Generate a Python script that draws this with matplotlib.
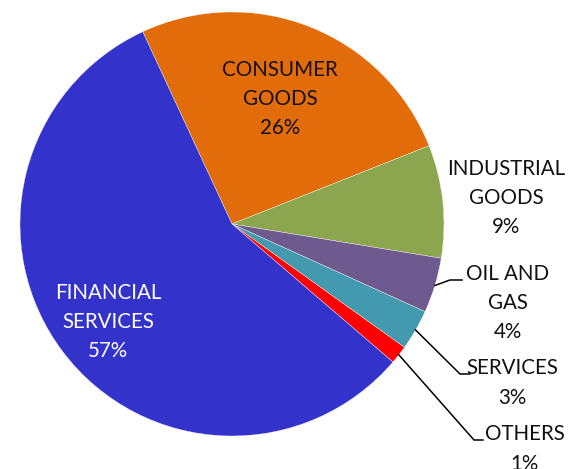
import numpy as np
import matplotlib.pyplot as plt

# sector shares (percent), in drawing order (clockwise from the top-left)
sectors = ["CONSUMER\nGOODS", "INDUSTRIAL\nGOODS", "OIL AND\nGAS", "SERVICES", "OTHERS", "FINANCIAL\nSERVICES"]
shares = [25.9, 8.6, 4.2, 3.1, 1.4, 56.8]
colors = ["#E36C0A", "#8BA64F", "#6F5A8F", "#4399AE", "#FF0000", "#3333CC"]
text_colors = ["#111111", "#111111", "#111111", "#111111", "#111111", "white"]

W, H = 568, 469
fig = plt.figure(figsize=(W / 100, H / 100), dpi=100)
ax = fig.add_axes([0, 0, 1, 1])

cx, cy, r = 232, H - 224, 212
wedges, _ = ax.pie(shares, colors=colors, startangle=114.9, counterclock=False,
                   center=(cx, cy), radius=r, frame=True,
                   wedgeprops=dict(edgecolor="white", linewidth=0.25))
ax.set_xlim(0, W)
ax.set_ylim(0, H)
ax.set_aspect("equal")
ax.axis("off")

# label centres (pixel coords, y from top)
label_pos = [(280, 99), (506, 198), (508, 303), (512, 383), (525, 449), (108, 322)]
# leader lines: elbow and end points (None = label sits inside the wedge)
elbows = [None, None, (450, 280), (460, 374), (474, 440), None]
line_ends = [None, None, (462, 280), (470, 374), (483, 440), None]

font = dict(family=["Lato", "DejaVu Sans"], fontsize=14.8, linespacing=1.58)

for i, (name, val) in enumerate(zip(sectors, shares)):
    lx, ly = label_pos[i]
    ax.text(lx, H - ly, f"{name}\n{round(val)}%", ha="center", va="center",
            color=text_colors[i], **font)
    if elbows[i] is not None:
        w = wedges[i]
        mid = np.deg2rad((w.theta1 + w.theta2) / 2)
        sx, sy = cx + r * np.cos(mid), cy + r * np.sin(mid)
        ex, ey = elbows[i]
        fx, fy = line_ends[i]
        ax.plot([sx, ex, fx], [sy, H - ey, H - fy], color="black", lw=1.1,
                solid_joinstyle="miter")

fig.savefig("out.png", dpi=100)
